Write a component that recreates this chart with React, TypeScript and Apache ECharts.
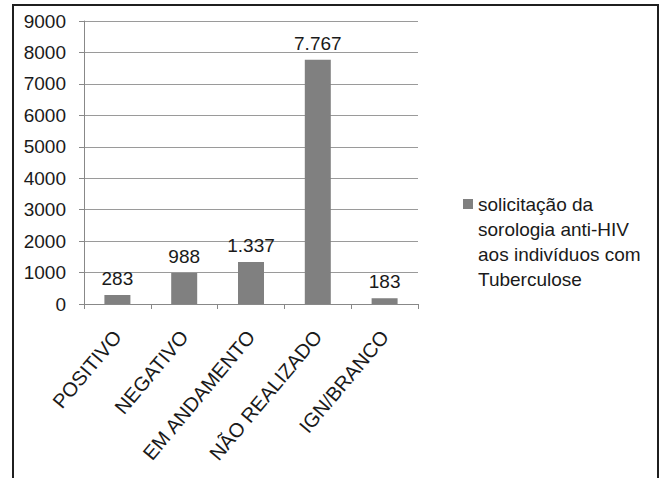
import React, { useEffect, useRef } from "react";
import * as echarts from "echarts";

const categories = ["POSITIVO", "NEGATIVO", "EM ANDAMENTO", "NÃO REALIZADO", "IGN/BRANCO"];
const values = [283, 988, 1337, 7767, 183];
const seriesName = "solicitação da\nsorologia anti-HIV\naos indivíduos com\nTuberculose";

const FONT = "'Liberation Sans', Arial, sans-serif";
const BAR_COLOR = "#808080";
const TEXT_COLOR = "#1a1a1a";

// Portuguese thousands separator: 1337 -> "1.337"
const fmt = (v: number) => String(v).replace(/\B(?=(\d{3})+(?!\d))/g, ".");

export default function App() {
  const ref = useRef<HTMLDivElement>(null);

  useEffect(() => {
    if (!ref.current) return;
    const chart = echarts.init(ref.current, null, { renderer: "svg" });
    chart.setOption({
      animation: false,
      backgroundColor: "#ffffff",
      textStyle: { fontFamily: FONT },
      grid: { left: 84, top: 21, right: 244, bottom: 174, containLabel: false },
      xAxis: {
        type: "category",
        data: categories,
        axisLine: { show: true, lineStyle: { color: "#888888", width: 1 } },
        axisTick: { show: true, length: 5, lineStyle: { color: "#888888" } },
        axisLabel: {
          rotate: 50,
          margin: 29,
          interval: 0,
          fontSize: 20,
          color: TEXT_COLOR,
          fontFamily: FONT,
        },
        splitLine: { show: false },
      },
      yAxis: {
        type: "value",
        min: 0,
        max: 9000,
        interval: 1000,
        axisLine: { show: true, lineStyle: { color: "#888888", width: 1 } },
        axisTick: { show: true, length: 5, lineStyle: { color: "#888888" } },
        axisLabel: {
          margin: 18,
          fontSize: 19,
          color: TEXT_COLOR,
          fontFamily: FONT,
          formatter: (v: number) => String(v),
        },
        splitLine: { show: true, lineStyle: { color: "#9a9a9a", width: 1 } },
      },
      legend: { show: false },
      series: [
        {
          type: "bar",
          name: seriesName,
          data: values,
          barWidth: 26,
          itemStyle: { color: BAR_COLOR },
          label: {
            show: true,
            position: "top",
            distance: 7,
            fontSize: 19,
            color: TEXT_COLOR,
            fontFamily: FONT,
            formatter: (p: any) => fmt(p.value),
          },
        },
      ],
      graphic: [
        // outer frame
        {
          type: "rect",
          shape: { x: 13, y: 5, width: 645, height: 500 },
          style: { fill: "none", stroke: "#1f1f1f", lineWidth: 2 },
          silent: true,
        },
        // legend: swatch beside the first line of the series name
        {
          type: "rect",
          shape: { x: 463, y: 199, width: 10, height: 10 },
          style: { fill: BAR_COLOR },
          silent: true,
        },
        {
          type: "text",
          x: 478,
          y: 192,
          style: {
            text: seriesName,
            fontSize: 19,
            lineHeight: 25,
            fill: TEXT_COLOR,
            fontFamily: FONT,
            textVerticalAlign: "top",
          },
          silent: true,
        },
      ],
    });
    return () => chart.dispose();
  }, []);

  return (
    <div
      ref={ref}
      style={{ position: "fixed", left: 0, top: 0, width: 662, height: 478, background: "#fff" }}
    />
  );
}
